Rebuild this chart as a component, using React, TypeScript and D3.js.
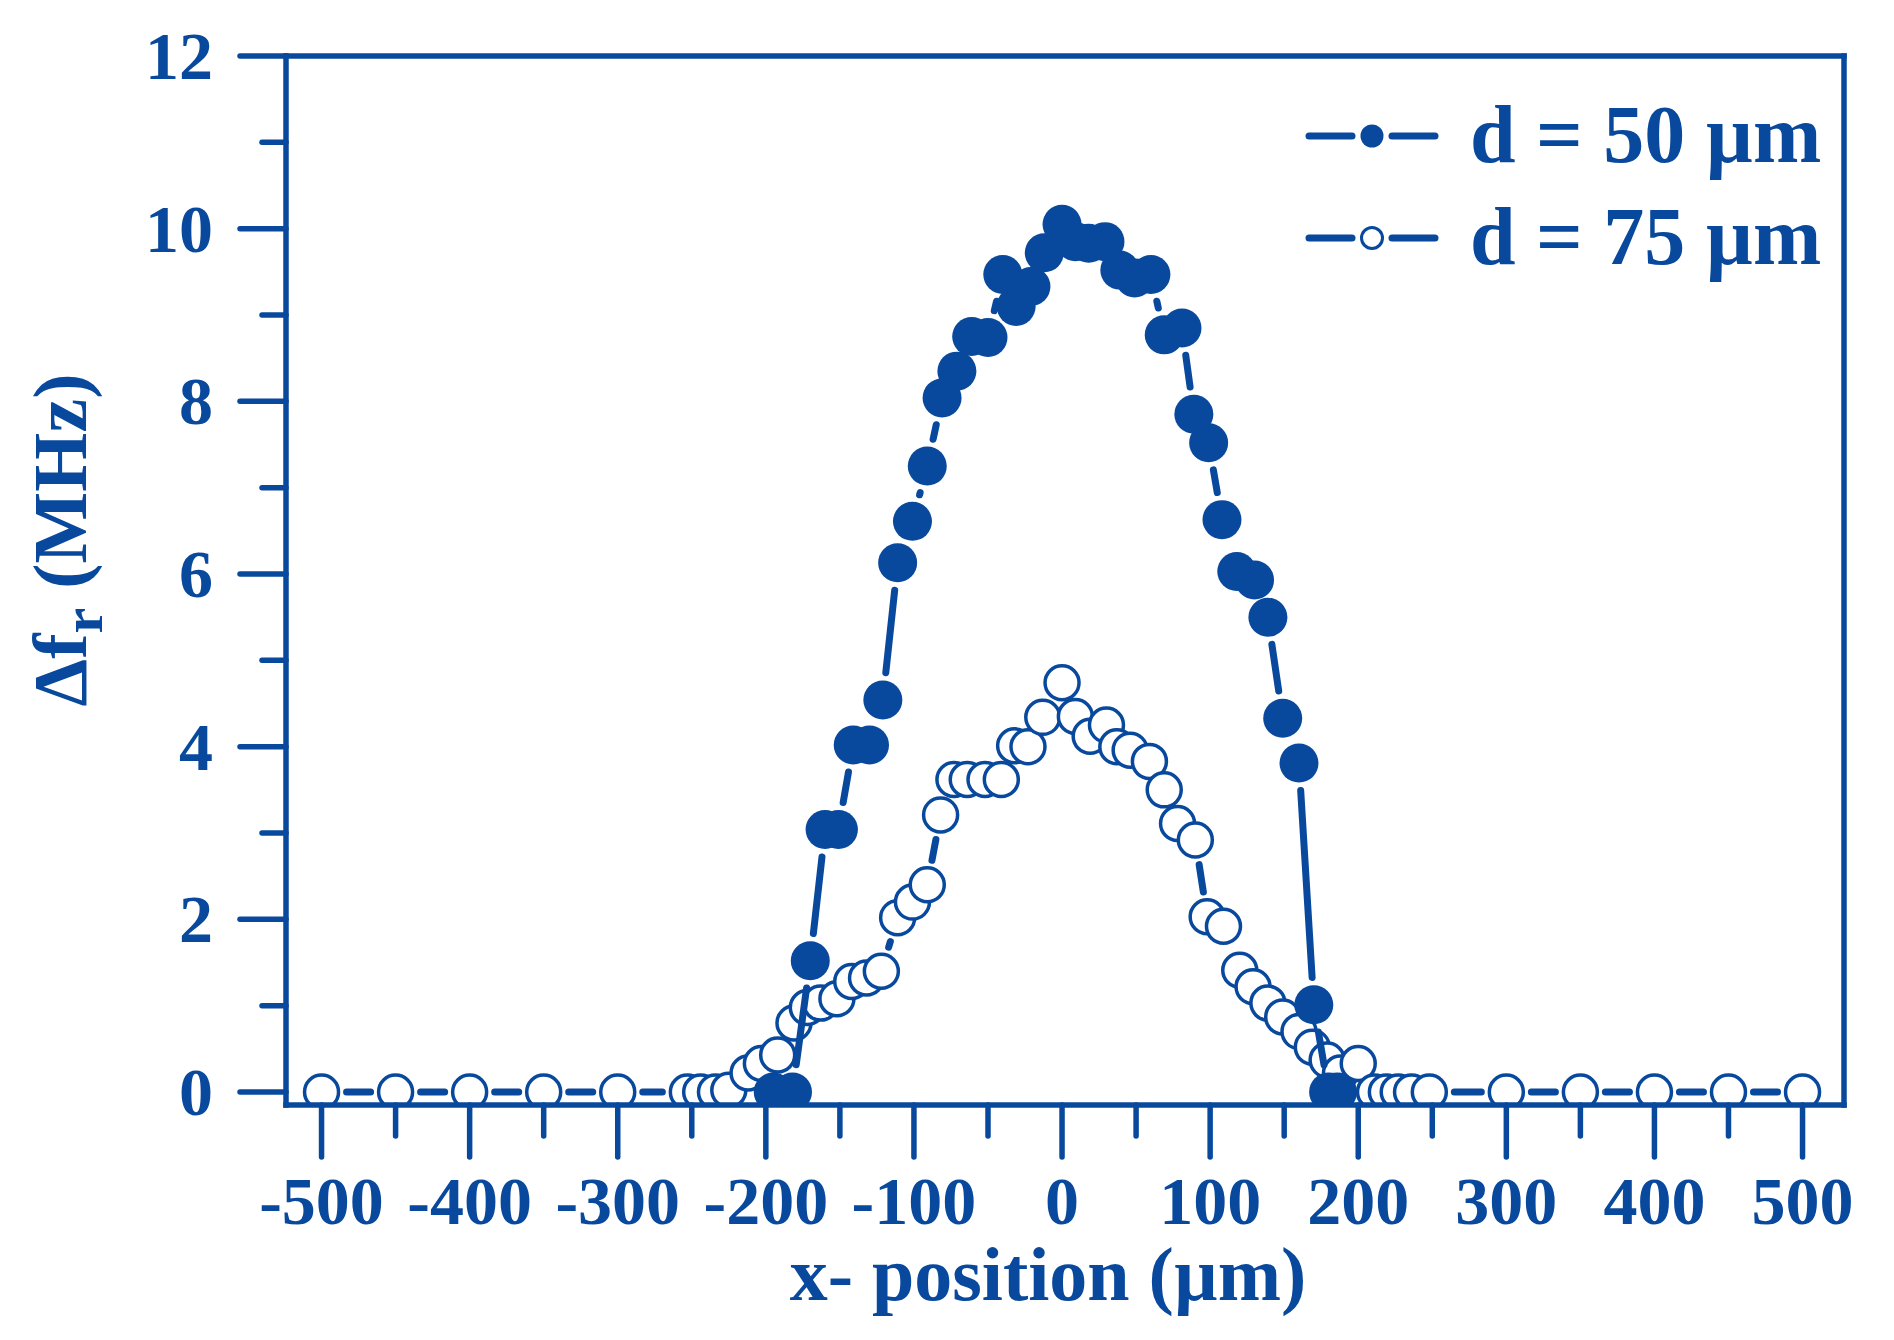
import React from 'react';
import * as d3 from 'd3';

// ---------- data ----------
const xTicksMajor = [-500, -400, -300, -200, -100, 0, 100, 200, 300, 400, 500];
const xTicksMinor = [-450, -350, -250, -150, -50, 50, 150, 250, 350, 450];
const yTicksMajor = [0, 2, 4, 6, 8, 10, 12];
const yTicksMinor = [1, 3, 5, 7, 9, 11];

// d = 50 µm (filled)
const d50X = [-195, -182, -170, -160, -151, -141, -130, -121, -111, -101, -91, -81, -71, -61, -50, -40, -31, -21, -12, 0, 9, 18, 29, 39, 49, 60, 69, 81, 89, 99, 108, 118, 130, 139, 149, 160, 170, 180, 186];
const d50Y = [0, 0, 1.52, 3.04, 3.04, 4.02, 4.02, 4.54, 6.13, 6.61, 7.25, 8.04, 8.35, 8.75, 8.74, 9.47, 9.1, 9.33, 9.72, 10.05, 9.85, 9.83, 9.85, 9.52, 9.43, 9.47, 8.77, 8.85, 7.85, 7.52, 6.63, 6.03, 5.93, 5.5, 4.33, 3.81, 1.01, 0, 0];

// d = 75 µm (open)
const d75X = [-500, -450, -400, -350, -300, -253, -244, -234, -225, -212, -203, -192, -181, -172, -163, -152, -142, -132, -122, -111, -101, -91, -82, -73, -64, -52, -41, -32, -23, -13, 0, 9, 19, 30, 37, 46, 59, 69, 78, 90, 98, 109, 120, 129, 139, 149, 160, 169, 179, 188, 200, 211, 219, 227, 236, 248, 300, 350, 400, 450, 500];
const d75Y = [0, 0, 0, 0, 0, 0, 0, 0, 0.02, 0.22, 0.33, 0.43, 0.8, 0.98, 1.03, 1.08, 1.28, 1.32, 1.4, 2.02, 2.2, 2.4, 3.21, 3.62, 3.62, 3.62, 3.62, 4.01, 4.0, 4.34, 4.74, 4.35, 4.12, 4.25, 4.0, 3.96, 3.83, 3.5, 3.11, 2.92, 2.03, 1.92, 1.41, 1.22, 1.03, 0.87, 0.7, 0.52, 0.37, 0.22, 0.33, 0, 0, 0, 0, 0, 0, 0, 0, 0, 0];

const legendLabels = ['d = 50 µm', 'd = 75 µm'];
const xTitle = 'x- position (µm)';

// ---------- style ----------
const COLOR = '#08499d';
const FONT = "'Liberation Serif', 'Times New Roman', Times, serif";

const W = 1894;
const H = 1340;
const LEFT = 286;
const RIGHT = 1844;
const TOP = 56;
const BOTTOM = 1105;

const x = d3.scaleLinear().domain([-524, 528]).range([LEFT, RIGHT]);
const y = d3.scaleLinear().domain([-0.15, 12]).range([BOTTOM, TOP]);

function trimmedSegments(pts: [number, number][], trim: number) {
  const segs: [number, number, number, number][] = [];
  for (let i = 0; i < pts.length - 1; i++) {
    const [x1, y1] = pts[i];
    const [x2, y2] = pts[i + 1];
    const dx = x2 - x1;
    const dy = y2 - y1;
    const L = Math.hypot(dx, dy);
    if (L <= 2 * trim + 2) continue;
    const ux = dx / L;
    const uy = dy / L;
    segs.push([x1 + ux * trim, y1 + uy * trim, x2 - ux * trim, y2 - uy * trim]);
  }
  return segs;
}

const R_FILLED = 19.5;
const R_OPEN = 17;
const LINE_W = 7;

function Series({ xs, ys, filled }: { xs: number[]; ys: number[]; filled: boolean }) {
  const pts: [number, number][] = xs.map((v, i) => [x(v), y(ys[i])]);
  const r = filled ? R_FILLED : R_OPEN;
  const segs = trimmedSegments(pts, r + 8);
  return (
    <g clipPath="url(#plotClip)">
      {segs.map((s, i) => (
        <line key={'l' + i} x1={s[0]} y1={s[1]} x2={s[2]} y2={s[3]} stroke={COLOR} strokeWidth={LINE_W} strokeLinecap="round" />
      ))}
      {pts.map((p, i) => (
        <circle
          key={'c' + i}
          cx={p[0]}
          cy={p[1]}
          r={r}
          fill={filled ? COLOR : '#ffffff'}
          stroke={COLOR}
          strokeWidth={filled ? 0 : 3.5}
        />
      ))}
    </g>
  );
}

export default function App() {
  if (typeof document !== 'undefined') {
    document.body.style.margin = '0';
  }
  const legendRows = [136, 238];
  return (
    <svg width={W} height={H} viewBox={`0 0 ${W} ${H}`} style={{ display: 'block', background: '#fff' }}>
      <defs>
        <clipPath id="plotClip">
          <rect x={LEFT} y={TOP} width={RIGHT - LEFT} height={BOTTOM - TOP} />
        </clipPath>
      </defs>
      <rect x={0} y={0} width={W} height={H} fill="#fff" />

      {/* series */}
      <Series xs={d75X} ys={d75Y} filled={false} />
      <Series xs={d50X} ys={d50Y} filled={true} />

      {/* frame */}
      <g stroke={COLOR} strokeWidth={5.5} fill="none" strokeLinecap="square">
        <line x1={LEFT} y1={TOP} x2={RIGHT} y2={TOP} />
        <line x1={RIGHT} y1={TOP} x2={RIGHT} y2={BOTTOM} />
        <line x1={LEFT} y1={BOTTOM} x2={RIGHT} y2={BOTTOM} />
        <line x1={LEFT} y1={TOP} x2={LEFT} y2={BOTTOM} />
      </g>

      {/* y ticks */}
      <g stroke={COLOR} strokeWidth={5.5} strokeLinecap="round">
        {yTicksMajor.map((t) => (
          <line key={'ym' + t} x1={LEFT - 46} y1={y(t)} x2={LEFT} y2={y(t)} />
        ))}
        {yTicksMinor.map((t) => (
          <line key={'yn' + t} x1={LEFT - 24} y1={y(t)} x2={LEFT} y2={y(t)} />
        ))}
      </g>
      {/* x ticks */}
      <g stroke={COLOR} strokeWidth={5.5} strokeLinecap="round">
        {xTicksMajor.map((t) => (
          <line key={'xm' + t} x1={x(t)} y1={BOTTOM} x2={x(t)} y2={BOTTOM + 52} />
        ))}
        {xTicksMinor.map((t) => (
          <line key={'xn' + t} x1={x(t)} y1={BOTTOM} x2={x(t)} y2={BOTTOM + 31} />
        ))}
      </g>

      {/* tick labels */}
      <g fill={COLOR} fontFamily={FONT} fontWeight="bold" fontSize={68}>
        {yTicksMajor.map((t) => (
          <text key={'yl' + t} x={213} y={y(t)} dy="0.34em" textAnchor="end">
            {String(t)}
          </text>
        ))}
        {xTicksMajor.map((t) => (
          <text key={'xl' + t} x={x(t)} y={1224} textAnchor="middle">
            {String(t)}
          </text>
        ))}
      </g>

      {/* axis titles */}
      <text x={(LEFT + RIGHT) / 2 - 17} y={1300} textAnchor="middle" fill={COLOR} fontFamily={FONT} fontWeight="bold" fontSize={76}>
        {xTitle}
      </text>
      <text
        transform={`translate(86, 540) rotate(-90)`}
        textAnchor="middle"
        fill={COLOR}
        fontFamily={FONT}
        fontWeight="bold"
        fontSize={76}
      >
        Δf<tspan baselineShift="-28%" fontSize={58}>r</tspan>
        <tspan> (MHz)</tspan>
      </text>

      {/* legend */}
      {legendLabels.map((lab, i) => {
        const cy = legendRows[i];
        const filled = i === 0;
        return (
          <g key={'lg' + i}>
            <line x1={1309} y1={cy} x2={1352} y2={cy} stroke={COLOR} strokeWidth={7} strokeLinecap="round" />
            <line x1={1392} y1={cy} x2={1435} y2={cy} stroke={COLOR} strokeWidth={7} strokeLinecap="round" />
            <circle cx={1372} cy={cy} r={filled ? 11.5 : 10.5} fill={filled ? COLOR : '#fff'} stroke={COLOR} strokeWidth={filled ? 0 : 3} />
            <text x={1470} y={cy + 26} fill={COLOR} fontFamily={FONT} fontWeight="bold" fontSize={82}>
              {lab}
            </text>
          </g>
        );
      })}
    </svg>
  );
}
